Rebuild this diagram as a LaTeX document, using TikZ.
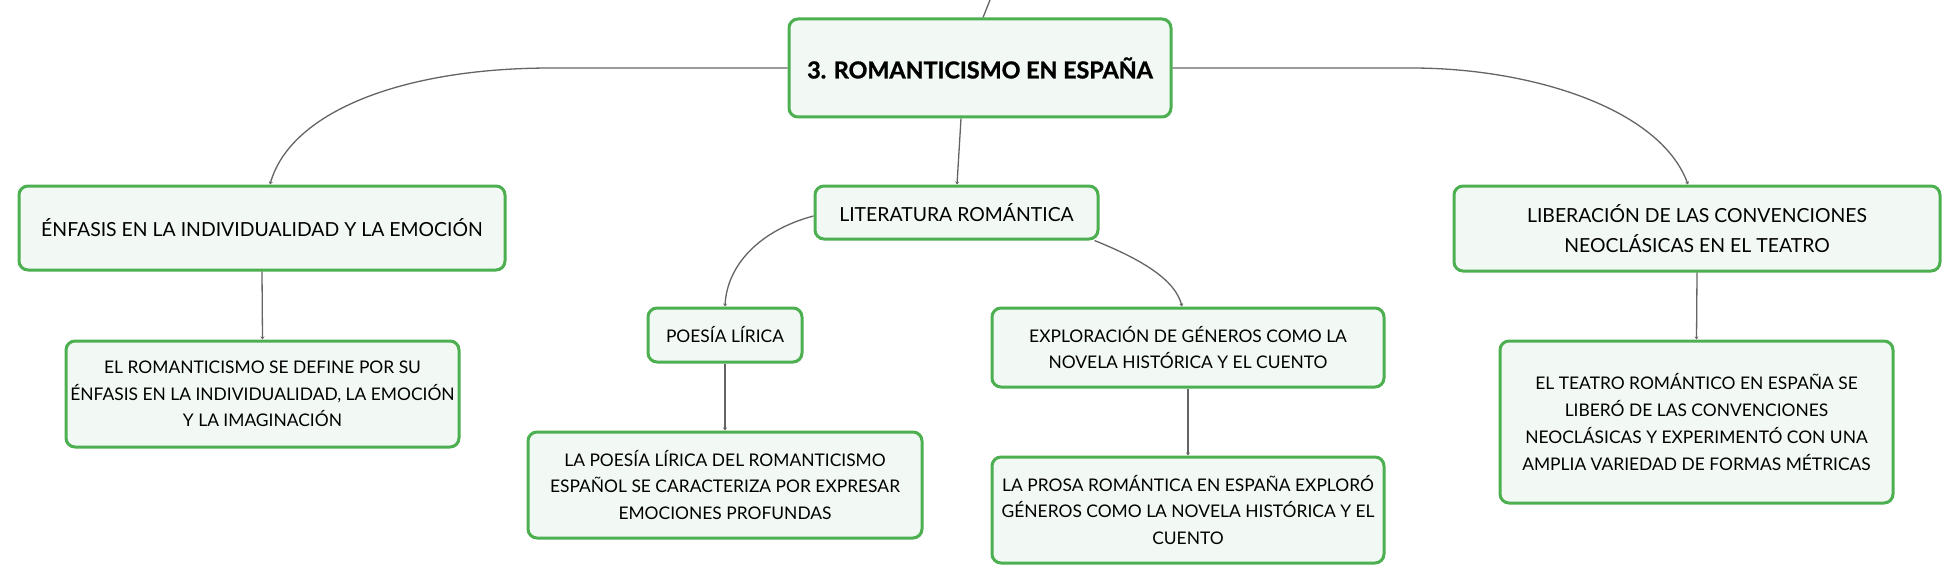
\documentclass[tikz,border=0pt]{standalone}
\usepackage{fontspec}
\setmainfont{Lato}
\newfontfamily\heavyfont{Lato}[BoldFeatures={FakeBold=1.2}]
\usetikzlibrary{arrows.meta,calc}
\definecolor{bordergreen}{RGB}{76,175,80}
\definecolor{boxfill}{RGB}{242,249,244}
\definecolor{linkgray}{RGB}{100,100,100}
\tikzset{
  mbox/.style={draw=bordergreen, line width=3pt, fill=boxfill, rounded corners=9pt,
    inner sep=0pt, align=center, text=black},
  rootbox/.style={mbox, font=\heavyfont\fontsize{23.3}{30}\selectfont\bfseries},
  lvlone/.style={mbox, font=\fontsize{19.4}{30}\selectfont},
  lvltwo/.style={mbox, font=\fontsize{17.4}{26.7}\selectfont},
  link/.style={draw=linkgray, line width=1.3pt, -{Stealth[length=3pt,width=4pt]}},
  plainlink/.style={draw=linkgray, line width=1.3pt}
}
\begin{document}
\begin{tikzpicture}[x=1pt,y=-1pt]
\useasboundingbox (0,0) rectangle (1960,583);
\node[rootbox, minimum width=382pt, minimum height=98pt] (root) at (980,68) {3. ROMANTICISMO EN ESPAÑA};
\node[lvlone, minimum width=486pt, minimum height=84pt] (enf) at (262,228) {ÉNFASIS EN LA INDIVIDUALIDAD Y LA EMOCIÓN};
\node[lvltwo, minimum width=393pt, minimum height=106pt] (enfc) at (262.5,394) {EL ROMANTICISMO SE DEFINE POR SU\\ÉNFASIS EN LA INDIVIDUALIDAD, LA EMOCIÓN\\Y LA IMAGINACIÓN};
\node[lvlone, minimum width=283pt, minimum height=53pt] (lit) at (956.5,212.5) {LITERATURA ROMÁNTICA};
\node[lvltwo, minimum width=154pt, minimum height=54pt] (poe) at (725,335) {POESÍA LÍRICA};
\node[lvltwo, minimum width=394pt, minimum height=106pt] (poec) at (725,485) {LA POESÍA LÍRICA DEL ROMANTICISMO\\ESPAÑOL SE CARACTERIZA POR EXPRESAR\\EMOCIONES PROFUNDAS};
\node[lvltwo, minimum width=392pt, minimum height=79pt] (exp) at (1188,347.5) {EXPLORACIÓN DE GÉNEROS COMO LA\\NOVELA HISTÓRICA Y EL CUENTO};
\node[lvltwo, minimum width=392pt, minimum height=106pt] (expc) at (1188,510) {LA PROSA ROMÁNTICA EN ESPAÑA EXPLORÓ\\GÉNEROS COMO LA NOVELA HISTÓRICA Y EL\\CUENTO};
\node[lvlone, minimum width=486pt, minimum height=85pt] (lib) at (1697,228.5) {LIBERACIÓN DE LAS CONVENCIONES\\NEOCLÁSICAS EN EL TEATRO};
\node[lvltwo, minimum width=393pt, minimum height=162pt] (libc) at (1696.5,422) {EL TEATRO ROMÁNTICO EN ESPAÑA SE\\LIBERÓ DE LAS CONVENCIONES\\NEOCLÁSICAS Y EXPERIMENTÓ CON UNA\\AMPLIA VARIEDAD DE FORMAS MÉTRICAS};
\coordinate (up) at (990,0);
% connectors
\draw[plainlink] ([xshift=3pt]root.north) -- (up);
\draw[link] (root.west) -- ++(-236,0) .. controls +(-153,0) and +(20,-71) .. ([xshift=8pt]enf.north);
\draw[link] (root.east) -- ++(239,0) .. controls +(120,0) and +(-28,-76) .. ([xshift=-9pt]lib.north);
\draw[link] ([xshift=-19pt]root.south) -- ([xshift=0.5pt]lit.north);
\draw[link] ([yshift=-3.5pt]lit.west) .. controls +(-53,14) and +(2,-42) .. (poe.north);
\draw[link] ([xshift=-5pt]lit.south east) .. controls +(47,19) and +(-7,-27) .. ([xshift=-6pt]exp.north);
\draw[link] (enf.south) -- (enfc.north);
\draw[link] (poe.south) -- (poec.north);
\draw[link] (exp.south) -- (expc.north);
\draw[link] (lib.south) -- (libc.north);
\end{tikzpicture}
\end{document}
